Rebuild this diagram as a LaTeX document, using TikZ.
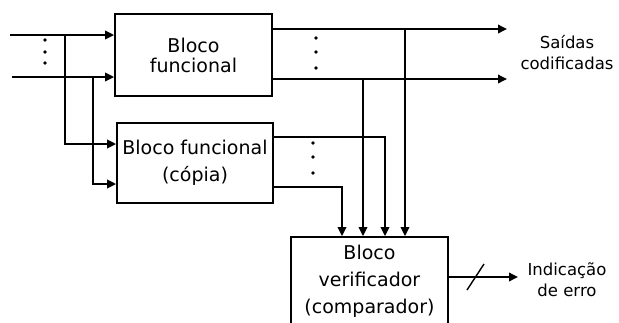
\documentclass[tikz,border=0pt]{standalone}
\usepackage{fontspec}
\setmainfont{DejaVu Sans}
\usetikzlibrary{arrows.meta,positioning}
\newcommand{\BlockFont}{\fontsize{19}{20}\selectfont}
\newcommand{\SideFont}{\fontsize{16.5}{21}\selectfont}

\begin{document}
\begin{tikzpicture}[x=1pt,y=-1pt,line width=1.8pt,
  >={Triangle[length=9pt,width=8.5pt]},
  bloco/.style={draw,rectangle,align=center,inner sep=2pt,font=\BlockFont},
  rotulo/.style={align=center,inner sep=0pt,font=\SideFont}]
\useasboundingbox (0,0) rectangle (619,322);
\clip (0,0) rectangle (619,322);
\node[bloco,minimum width=157pt,minimum height=82pt] (func) at (193.5,55) {Bloco\\funcional};
\node[bloco,minimum width=156pt,minimum height=80pt,font=\fontsize{19}{27}\selectfont] (copia) at (195,163) {Bloco funcional\\(cópia)};
\node[bloco,minimum width=157pt,minimum height=88pt,font=\fontsize{19}{27}\selectfont] (verif) at (369.5,281) {Bloco\\verificador\\(comparador)};
\node[rotulo] (saidas) at (567,53) {Saídas\\codificadas};
\node[rotulo] (erro) at (567,280) {Indicação\\de erro};
\coordinate (in1) at (10,35);
\coordinate (in2) at (12,77);
\coordinate (br1) at (65,35);
\coordinate (br2) at (93,77);
\coordinate (out1) at (507,29);
\coordinate (out2) at (507,79);
\coordinate (tap1) at (405,29);
\coordinate (tap2) at (363,79);
\coordinate (fim) at (518,277);
\draw[->] (in1) -- (in1 -| func.west);
\draw[->] (in2) -- (in2 -| func.west);
\draw[->] (br1) |- ([yshift=19pt]copia.west);
\draw[->] (br2) |- ([yshift=-21pt]copia.west);
\draw[->] (out1 -| func.east) -- (out1);
\draw[->] (out2 -| func.east) -- (out2);
\draw[->] (tap1) -- (tap1 |- verif.north);
\draw[->] (tap2) -- (tap2 |- verif.north);
\draw[->] ([yshift=26pt]copia.east) -| ([xshift=15.5pt]verif.north);
\draw[->] ([yshift=-24pt]copia.east) -| ([xshift=-27.5pt]verif.north);
\draw[->] (fim -| verif.east) -- (fim);
\draw[line width=1.4pt] (467,290) -- (484,264);
\foreach \y in {40,52,63} \fill (45,\y) circle (1.8);
\foreach \y in {38,52,68} \fill (316,\y) circle (1.8);
\foreach \y in {143,157,173} \fill (313,\y) circle (1.8);
\end{tikzpicture}
\end{document}
